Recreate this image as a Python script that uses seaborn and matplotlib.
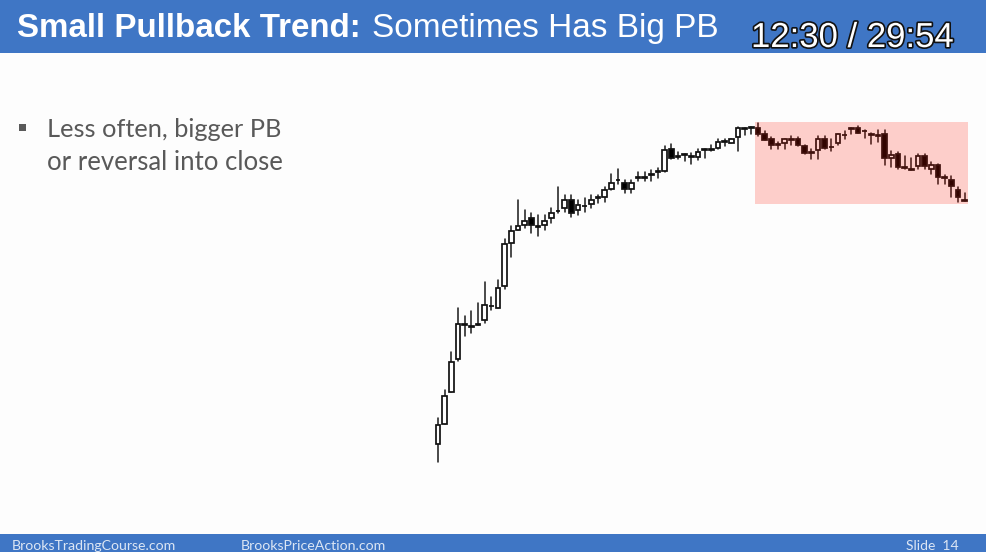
import numpy as np
import pandas as pd
import matplotlib
matplotlib.use("Agg")
import matplotlib.pyplot as plt
import matplotlib.patheffects as pe
from matplotlib.patches import Rectangle
import seaborn as sns

opens = [26.5,46.5,78.5,111,145.5,143.5,145.5,150.5,164.5,162.5,
         184,227.5,240,245,252.5,243.5,245,252.5,259,262.5,
         270,260.5,264.5,266,272.5,273.5,281.5,290,287.5,281.5,
         292.5,292.5,295.5,298.5,299.5,321,313.5,315.5,313.5,313.5,
         320.5,320.5,322.5,328.5,327.5,333,341.5,342.5,342.5,336,
         331,325.5,327.5,330.5,331,324,317.5,320,331.5,323.5,
         327.5,335,341.5,342.5,339,335.5,334.5,336.5,312.5,316,
         302.5,300.5,304.5,314.5,301.5,305.5,292.5,290,280.5,269.5]
closes = [45.5,74,108,146,146,144,146,165,164,182.5,
          226.5,239.5,244,249,245,244,249,257.5,259.5,270,
          257.5,265,264,270,273,280.5,287.5,290.5,281.5,287,
          293,293,296,299,320.5,312.5,314,316,314,318.5,
          321,321,328.5,329,331,342.5,342,343,336.5,330.5,
          325,326,331,331,325,317.5,318,331,322.5,323,
          336,335.5,342,337.5,339.5,336,335,312.5,315.5,303.5,
          303,301,314.5,304.5,305,293.5,293,284,273.5,270]
highs = [52,80,118,162,154,159,167,188,173,190,
         231,244,270.5,260,257.5,255,255,262,283.5,275.5,
         275.5,270,272.5,275.5,275,283.5,296,301,290,290,
         298.5,298.5,300.5,302.5,324.5,326.5,318,316,317,321.5,
         321,325.5,331,331,331,343,342.5,343,347.5,339.5,
         333.5,328.5,331,334.5,333.5,325,321.5,334.5,334.5,331,
         336.5,339.5,342,344.5,340,337,340,340,319,318.5,
         314.5,312,316.5,316.5,308.5,306.5,295.5,294,283.5,277.5]
lows = [8,46.5,78,109,134,137,145,147,160,162.5,
        181,213.5,240,242,237,234,240,247,257,258,
        253,255,258,262.5,267.5,268.5,280.5,286,277.5,277.5,
        289,289,289,292,298.5,311.5,311.5,309.5,306,310.5,
        312.5,319,321.5,324.5,327.5,319.5,335,336,334.5,330,
        321.5,321.5,321.5,325.5,324.5,316.5,311.5,311.5,321.5,319.5,
        325,331,336,337.5,332.5,326.5,328.5,305.5,303.5,301.5,
        301.5,300,301.5,301.5,296.5,286,286,273.5,268.5,269]

title_bold = "Small Pullback Trend:"
title_rest = "Sometimes Has Big PB"
timer = "12:30 / 29:54"
bullet_lines = ["Less often, bigger PB", "or reversal into close"]
footer_left = "BrooksTradingCourse.com"
footer_mid = "BrooksPriceAction.com"
footer_right = "Slide  14"

W, H = 986, 552
BLUE = "#3F76C5"
sns.set_theme(style="white")
plt.rcParams["font.family"] = ["Lato", "DejaVu Sans"]

fig = plt.figure(figsize=(W / 100, H / 100), dpi=100, facecolor="#FDFDFD")
ax = fig.add_axes([0, 0, 1, 1], facecolor="none")

n = len(opens)
idx = np.arange(n)
wicks = pd.DataFrame({
    "bar": np.concatenate([idx, idx]),
    "price": highs + lows,
})
sns.lineplot(data=wicks, x="bar", y="price", units="bar", estimator=None,
             color="#222222", linewidth=1.15, legend=False, sort=False, ax=ax)

o = np.array(opens, float)
c = np.array(closes, float)
up = c >= o
ax.bar(idx, np.abs(c - o), bottom=np.minimum(o, c), width=0.66,
       color=["white" if u else "black" for u in up],
       edgecolor="#111111", linewidth=1.25, zorder=3)

pitch = 6.667
x0 = 438
ax.set_xlim((0 - x0) / pitch, (W - x0) / pitch)
ax.set_ylim(470 - H, 470)
ax.axis("off")

# slide layer, measured in pixels
lay = fig.add_axes([0, 0, 1, 1], facecolor="none")
lay.set_xlim(0, W)
lay.set_ylim(H, 0)
lay.axis("off")

lay.add_patch(Rectangle((754.5, 122.3), 213.8, 81.7, facecolor="#FF1500",
                        alpha=0.2, edgecolor="none"))
lay.add_patch(Rectangle((0, 0), W, 52.5, facecolor=BLUE, edgecolor="none"))
lay.add_patch(Rectangle((0, 534), W, 18, facecolor=BLUE, edgecolor="none"))

ARIAL = ["Liberation Sans", "DejaVu Sans"]
lay.text(17, 37, title_bold, family=ARIAL, fontweight="bold", fontsize=23.9,
         color="white", ha="left", va="baseline")
lay.text(372, 37, title_rest, family=ARIAL, fontsize=24,
         color="white", ha="left", va="baseline")
lay.text(751, 47, timer, family=ARIAL, fontsize=25, color="white",
         ha="left", va="baseline",
         path_effects=[pe.withStroke(linewidth=2.4, foreground="#111111")])

lay.add_patch(Rectangle((19, 124), 7, 7, facecolor="#595959", edgecolor="none"))
GRAY = "#595959"
lay.text(47, 137, bullet_lines[0], fontsize=18.3, color=GRAY, ha="left", va="baseline")
lay.text(47, 170, bullet_lines[1], fontsize=18.5, color=GRAY, ha="left", va="baseline")

FOOT = "#DCE6F4"
lay.text(12, 550, footer_left, fontsize=10.2, color=FOOT, ha="left", va="baseline")
lay.text(241, 550, footer_mid, fontsize=10.2, color=FOOT, ha="left", va="baseline")
lay.text(906, 550, footer_right, fontsize=10, color=FOOT, ha="left", va="baseline")

fig.savefig("out.png", dpi=100, facecolor=fig.get_facecolor())
